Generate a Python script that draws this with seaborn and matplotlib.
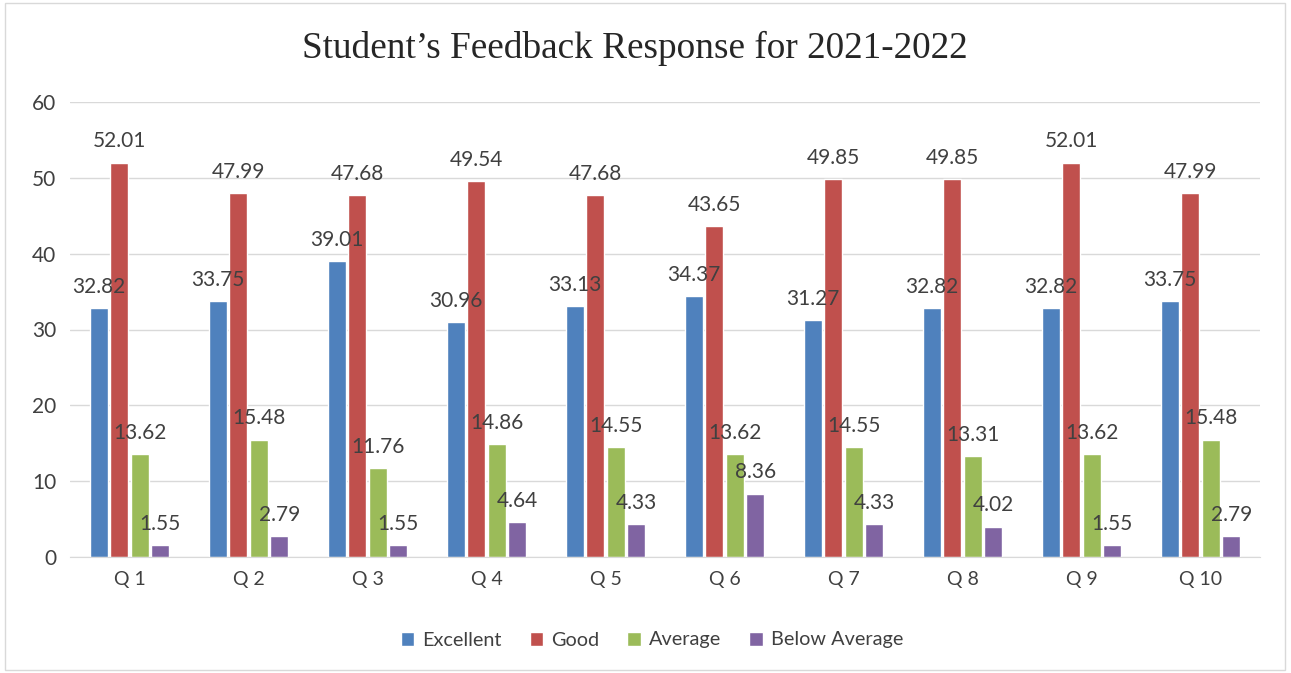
import pandas as pd
import matplotlib.pyplot as plt
import seaborn as sns
from matplotlib.patches import Rectangle

# 数据
questions = ['Q 1', 'Q 2', 'Q 3', 'Q 4', 'Q 5', 'Q 6', 'Q 7', 'Q 8', 'Q 9', 'Q 10']
excellent = [32.82, 33.75, 39.01, 30.96, 33.13, 34.37, 31.27, 32.82, 32.82, 33.75]
good = [52.01, 47.99, 47.68, 49.54, 47.68, 43.65, 49.85, 49.85, 52.01, 47.99]
average = [13.62, 15.48, 11.76, 14.86, 14.55, 13.62, 14.55, 13.31, 13.62, 15.48]
below_average = [1.55, 2.79, 1.55, 4.64, 4.33, 8.36, 4.33, 4.02, 1.55, 2.79]
series_names = ['Excellent', 'Good', 'Average', 'Below Average']
colors = ['#4F81BD', '#C0504D', '#9BBB59', '#8064A2']

sns.set_style('white')
plt.rcParams['font.family'] = ['Lato', 'DejaVu Sans']

rows = []
for name, vals in zip(series_names, [excellent, good, average, below_average]):
    for q, v in zip(questions, vals):
        rows.append({'question': q, 'series': name, 'value': v})
df = pd.DataFrame(rows)

fig = plt.figure(figsize=(12.91, 6.73), dpi=100)
ax = fig.add_axes([70 / 1291, 1 - 557 / 673, 1190 / 1291, 455 / 673])

sns.barplot(data=df, x='question', y='value', hue='series', palette=colors,
            width=0.69, gap=0.12, saturation=1, ax=ax)

for cont in ax.containers:
    ax.bar_label(cont, fmt='%.2f', padding=8, fontsize=15, color='#404040')

ax.set_ylim(0, 60)
ax.set_yticks(range(0, 61, 10))
ax.set_xlim(-0.5, 9.5)
ax.yaxis.grid(True, color='#D9D9D9', linewidth=1)
ax.set_axisbelow(True)
for s in ['top', 'right', 'left']:
    ax.spines[s].set_visible(False)
ax.spines['bottom'].set_color('#D9D9D9')
ax.tick_params(axis='both', length=0, labelsize=14, colors='#404040', pad=10)
ax.tick_params(axis='y', labelsize=15)
ax.set_xlabel('')
ax.set_ylabel('')

fig.suptitle('Student\u2019s Feedback Response for 2021-2022', x=635 / 1291,
             y=1 - 48 / 673, va='center', fontsize=26.8,
             family=['Liberation Serif', 'DejaVu Serif'])

ax.legend(loc='center', bbox_to_anchor=((652 - 70) / 1190, (557 - 640) / 455), ncol=4,
          frameon=False, fontsize=14.3, handlelength=0.7, handleheight=0.7,
          columnspacing=1.4, handletextpad=0.4, labelcolor='#404040')

# 外框
fig.patches.append(Rectangle((5 / 1291, 3 / 673), 1280 / 1291, 667 / 673,
                             transform=fig.transFigure, fill=False,
                             edgecolor='#D9D9D9', linewidth=1))

plt.savefig('out.png', dpi=100)
plt.close()
